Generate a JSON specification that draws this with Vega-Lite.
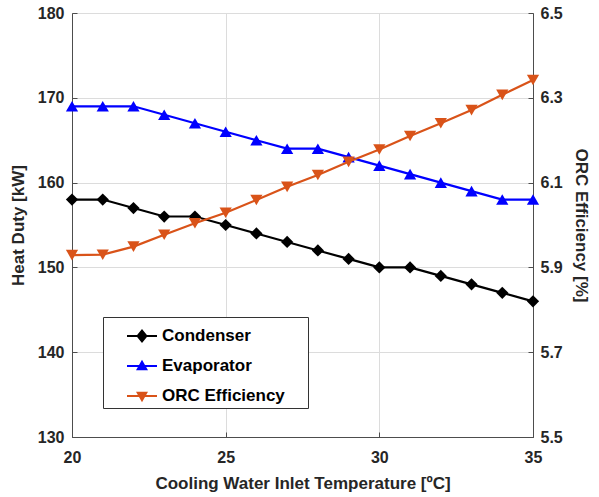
{
  "$schema": "https://vega.github.io/schema/vega-lite/v6.json",
  "width": 461,
  "height": 424,
  "autosize": "none",
  "padding": {"left": 72, "top": 13, "right": 66, "bottom": 60},
  "background": "white",
  "config": {
    "font": "Liberation Sans",
    "view": {"stroke": "#4d4d4d", "strokeWidth": 1},
    "axis": {
      "labelFont": "Liberation Sans",
      "labelFontSize": 16,
      "labelFontWeight": "bold",
      "labelColor": "#262626",
      "labelFlush": false,
      "titleFont": "Liberation Sans",
      "titleFontSize": 17,
      "titleFontWeight": "bold",
      "titleColor": "#262626",
      "domainColor": "#4d4d4d",
      "tickColor": "#4d4d4d",
      "gridColor": "#dcdcdc",
      "gridWidth": 1
    }
  },
  "datasets": {
    "heat": [
      {"x": 20, "series": "Condenser", "value": 158},
      {"x": 21, "series": "Condenser", "value": 158},
      {"x": 22, "series": "Condenser", "value": 157},
      {"x": 23, "series": "Condenser", "value": 156},
      {"x": 24, "series": "Condenser", "value": 156},
      {"x": 25, "series": "Condenser", "value": 155},
      {"x": 26, "series": "Condenser", "value": 154},
      {"x": 27, "series": "Condenser", "value": 153},
      {"x": 28, "series": "Condenser", "value": 152},
      {"x": 29, "series": "Condenser", "value": 151},
      {"x": 30, "series": "Condenser", "value": 150},
      {"x": 31, "series": "Condenser", "value": 150},
      {"x": 32, "series": "Condenser", "value": 149},
      {"x": 33, "series": "Condenser", "value": 148},
      {"x": 34, "series": "Condenser", "value": 147},
      {"x": 35, "series": "Condenser", "value": 146},
      {"x": 20, "series": "Evaporator", "value": 169},
      {"x": 21, "series": "Evaporator", "value": 169},
      {"x": 22, "series": "Evaporator", "value": 169},
      {"x": 23, "series": "Evaporator", "value": 168},
      {"x": 24, "series": "Evaporator", "value": 167},
      {"x": 25, "series": "Evaporator", "value": 166},
      {"x": 26, "series": "Evaporator", "value": 165},
      {"x": 27, "series": "Evaporator", "value": 164},
      {"x": 28, "series": "Evaporator", "value": 164},
      {"x": 29, "series": "Evaporator", "value": 163},
      {"x": 30, "series": "Evaporator", "value": 162},
      {"x": 31, "series": "Evaporator", "value": 161},
      {"x": 32, "series": "Evaporator", "value": 160},
      {"x": 33, "series": "Evaporator", "value": 159},
      {"x": 34, "series": "Evaporator", "value": 158},
      {"x": 35, "series": "Evaporator", "value": 158}
    ],
    "eff": [
      {"x": 20, "series": "ORC Efficiency", "value": 5.929},
      {"x": 21, "series": "ORC Efficiency", "value": 5.93},
      {"x": 22, "series": "ORC Efficiency", "value": 5.949},
      {"x": 23, "series": "ORC Efficiency", "value": 5.977},
      {"x": 24, "series": "ORC Efficiency", "value": 6.004},
      {"x": 25, "series": "ORC Efficiency", "value": 6.029},
      {"x": 26, "series": "ORC Efficiency", "value": 6.059},
      {"x": 27, "series": "ORC Efficiency", "value": 6.09},
      {"x": 28, "series": "ORC Efficiency", "value": 6.118},
      {"x": 29, "series": "ORC Efficiency", "value": 6.149},
      {"x": 30, "series": "ORC Efficiency", "value": 6.178},
      {"x": 31, "series": "ORC Efficiency", "value": 6.21},
      {"x": 32, "series": "ORC Efficiency", "value": 6.24},
      {"x": 33, "series": "ORC Efficiency", "value": 6.271},
      {"x": 34, "series": "ORC Efficiency", "value": 6.307},
      {"x": 35, "series": "ORC Efficiency", "value": 6.342}
    ]
  },
  "layer": [
    {
      "data": {"name": "heat"},
      "encoding": {
        "x": {
          "field": "x", "type": "quantitative",
          "scale": {"domain": [20, 35], "nice": false, "zero": false},
          "axis": {"values": [20, 25, 30, 35], "title": "Cooling Water Inlet Temperature [ºC]", "tickSize": -5, "labelPadding": 17, "titlePadding": 10, "grid": true}
        },
        "y": {
          "field": "value", "type": "quantitative",
          "scale": {"domain": [130, 180], "nice": false, "zero": false},
          "axis": {"values": [130, 140, 150, 160, 170, 180], "title": "Heat Duty [kW]", "tickSize": -5, "labelPadding": 13, "titlePadding": 10, "grid": true}
        },
        "color": {
          "field": "series", "type": "nominal",
          "scale": {"domain": ["Condenser", "Evaporator", "ORC Efficiency"], "range": ["#000000", "#0000ff", "#d95319"]},
          "legend": {
            "title": "\u00a0",
            "titleOrient": "right",
            "titlePadding": 19,
            "titleFontSize": 10,
            "orient": "none",
            "legendX": 31,
            "legendY": 304,
            "direction": "vertical",
            "fillColor": "white",
            "strokeColor": "#333333",
            "padding": 4,
            "labelFont": "Liberation Sans",
            "labelFontSize": 17,
            "labelFontWeight": "bold",
            "labelColor": "#000000",
            "symbolOffset": 20,
            "labelOffset": 5,
            "symbolSize": 900,
            "symbolStrokeWidth": 0,
            "symbolOpacity": 1,
            "rowPadding": 7
          }
        }
      },
      "layer": [
        {"mark": {"type": "line", "strokeWidth": 2.2}},
        {
          "transform": [{"filter": "datum.series == 'Condenser'"}],
          "mark": {"type": "point", "shape": "diamond", "filled": true, "size": 150, "opacity": 1}
        },
        {
          "transform": [{"filter": "datum.series == 'Evaporator'"}],
          "mark": {"type": "point", "shape": "triangle-up", "filled": true, "size": 150, "opacity": 1}
        },
        {
          "mark": {"type": "point", "filled": true, "size": 0, "opacity": 0},
          "encoding": {
            "shape": {
              "field": "series", "type": "nominal",
              "scale": {
                "domain": ["Condenser", "Evaporator", "ORC Efficiency"],
                "range": [
                  "M-1,-0.07L1,-0.07L1,0.07L-1,0.07ZM0,-0.46L0.38,0L0,0.46L-0.38,0Z",
                  "M-1,-0.07L1,-0.07L1,0.07L-1,0.07ZM0,-0.42L0.4,0.28L-0.4,0.28Z",
                  "M-1,-0.07L1,-0.07L1,0.07L-1,0.07ZM0,0.42L-0.4,-0.28L0.4,-0.28Z"
                ]
              }
            }
          }
        }
      ]
    },
    {
      "data": {"name": "eff"},
      "encoding": {
        "x": {"field": "x", "type": "quantitative", "scale": {"domain": [20, 35], "nice": false, "zero": false}},
        "y": {
          "field": "value", "type": "quantitative",
          "scale": {"domain": [5.5, 6.5], "nice": false, "zero": false},
          "axis": {"orient": "right", "values": [5.5, 5.7, 5.9, 6.1, 6.3, 6.5], "format": ".1f", "title": "ORC Efficiency [%]", "tickSize": -5, "labelPadding": 12, "titlePadding": 9, "grid": false}
        },
        "color": {
          "field": "series", "type": "nominal",
          "scale": {"domain": ["Condenser", "Evaporator", "ORC Efficiency"], "range": ["#000000", "#0000ff", "#d95319"]}
        }
      },
      "layer": [
        {"mark": {"type": "line", "strokeWidth": 2.2}},
        {"mark": {"type": "point", "shape": "triangle-down", "filled": true, "size": 150, "opacity": 1}}
      ]
    }
  ],
  "resolve": {"scale": {"y": "independent"}}
}
